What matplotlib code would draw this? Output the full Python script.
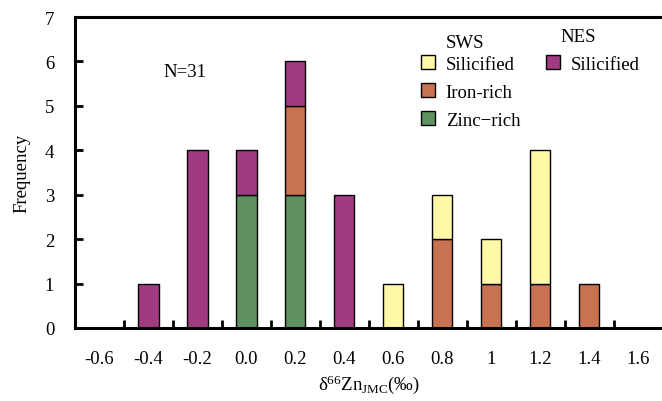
import numpy as np
import matplotlib.pyplot as plt
from matplotlib.patches import Patch

plt.rcParams['font.family'] = ['Liberation Serif', 'DejaVu Serif']
plt.rcParams['mathtext.fontset'] = 'custom'
plt.rcParams['mathtext.rm'] = 'Liberation Serif'
plt.rcParams['mathtext.it'] = 'Liberation Serif:italic'

bins = ['-0.6', '-0.4', '-0.2', '0.0', '0.2', '0.4', '0.6', '0.8', '1', '1.2', '1.4', '1.6']
zinc_rich = [0, 0, 0, 3, 3, 0, 0, 0, 0, 0, 0, 0]
iron_rich = [0, 0, 0, 0, 2, 0, 0, 2, 1, 1, 1, 0]
sws_silicified = [0, 0, 0, 0, 0, 0, 1, 1, 1, 3, 0, 0]
nes_silicified = [0, 1, 4, 1, 1, 3, 0, 0, 0, 0, 0, 0]

c_yellow = '#FFF8A6'
c_iron = '#C87252'
c_green = '#5F9160'
c_purple = '#A03B83'

fs = 13.5

fig = plt.figure(figsize=(6.62, 4.02), dpi=100)
ax = fig.add_axes([0.1133, 0.1816, 0.888, 0.7736])

x = np.arange(len(bins))
w = 0.41
bottom = np.zeros(len(bins))
for vals, col in [(zinc_rich, c_green), (iron_rich, c_iron),
                  (sws_silicified, c_yellow), (nes_silicified, c_purple)]:
    v = np.array(vals)
    ax.bar(x[v > 0], v[v > 0], w, bottom=bottom[v > 0], color=col,
           edgecolor='black', linewidth=1.0)
    bottom += v

ax.set_xlim(-0.5, len(bins) - 0.5)
ax.set_ylim(0, 7)
ax.set_yticks(range(8))
ax.set_xticks(x)
ax.set_xticklabels(bins)
ax.set_xticks(np.arange(0.5, len(bins) - 1, 1.0), minor=True)
ax.tick_params(axis='x', which='major', length=0, pad=16, labelsize=fs)
ax.tick_params(axis='x', which='minor', direction='in', length=6, width=2)
ax.tick_params(axis='y', direction='in', length=6, width=2, pad=15, labelsize=fs)

for s in ['left', 'bottom', 'top']:
    ax.spines[s].set_linewidth(2.2)
ax.spines['right'].set_visible(False)

ax.set_ylabel('Frequency', fontsize=fs, labelpad=10)
ax.set_xlabel('δ$^{66}$Zn$_{\\mathrm{JMC}}$(‰)', fontsize=fs, labelpad=4)

ax.text(1.74, 5.78, 'N=31', fontsize=fs, ha='center', va='center')

sws_handles = [Patch(facecolor=c_yellow, edgecolor='black', label='Silicified'),
               Patch(facecolor=c_iron, edgecolor='black', label='Iron-rich'),
               Patch(facecolor=c_green, edgecolor='black', label='Zinc\u2212rich')]
nes_handles = [Patch(facecolor=c_purple, edgecolor='black', label='Silicified')]

leg_kw = dict(bbox_transform=fig.transFigure, frameon=False, fontsize=fs,
              handlelength=0.7, handleheight=0.7, handletextpad=0.6,
              labelspacing=0.58, borderpad=0, loc='upper left')
leg1 = ax.legend(handles=sws_handles, bbox_to_anchor=(412 / 662, 1 - 47 / 402), **leg_kw)
ax.add_artist(leg1)
ax.legend(handles=nes_handles, bbox_to_anchor=(537 / 662, 1 - 47 / 402), **leg_kw)

fig.text(465 / 662, 1 - 44 / 402, 'SWS', fontsize=fs, ha='center', va='center')
fig.text(578 / 662, 1 - 38 / 402, 'NES', fontsize=fs, ha='center', va='center')

fig.savefig('out.png', dpi=100)
